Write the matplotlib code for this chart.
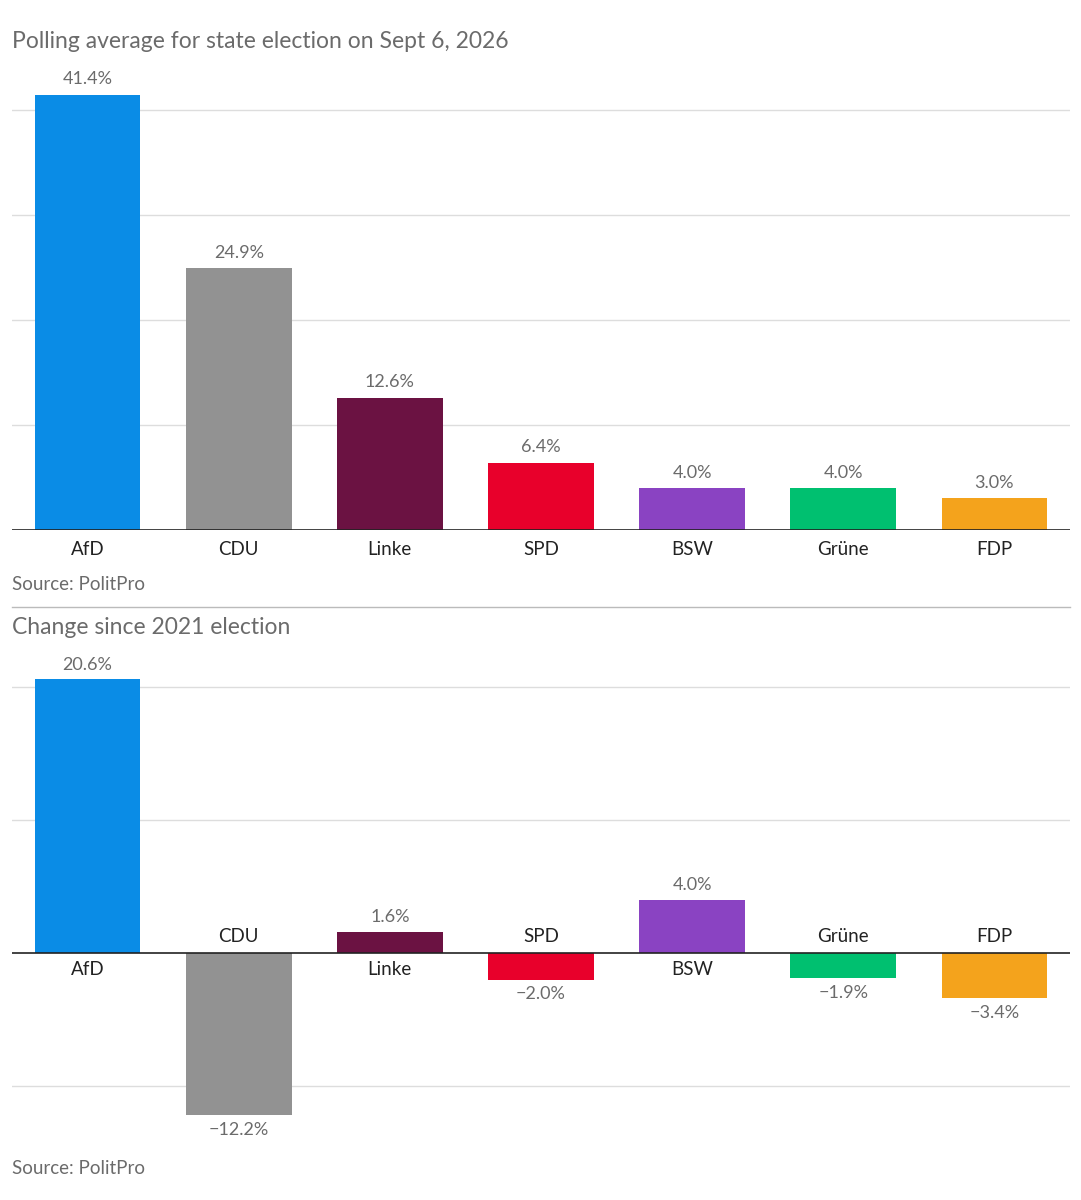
import matplotlib.pyplot as plt

parties = ["AfD", "CDU", "Linke", "SPD", "BSW", "Grüne", "FDP"]
polling = [41.4, 24.9, 12.6, 6.4, 4.0, 4.0, 3.0]
change = [20.6, -12.2, 1.6, -2.0, 4.0, -1.9, -3.4]
colors = ["#0a8ce6", "#929292", "#6b1242", "#e8002b", "#8a43c2", "#00c070", "#f4a31c"]

plt.rcParams["font.family"] = ["Lato", "DejaVu Sans"]
grey = "#6b6b6b"
W, H = 1081, 1200
fig = plt.figure(figsize=(W / 100, H / 100), dpi=100)

def px_axes(left, top, right, bottom):
    return fig.add_axes([left / W, 1 - bottom / H, (right - left) / W, (bottom - top) / H])

def style(ax, ticks):
    ax.set_xlim(-0.5, 6.5)
    ax.set_yticks(ticks)
    ax.grid(axis="y", color="#dddddd", lw=1)
    ax.set_axisbelow(True)
    ax.tick_params(left=False, labelleft=False, bottom=False, labelbottom=False)
    for s in ax.spines.values():
        s.set_visible(False)
    ax.axhline(0, color="#222222", lw=1.2, zorder=3)

# top panel
ax1 = px_axes(12, 78, 1070, 530)
ax1.set_ylim(0, 43)
style(ax1, [10, 20, 30, 40])
x = range(len(parties))
ax1.bar(x, polling, width=0.7, color=colors, zorder=2)
for i, v in enumerate(polling):
    ax1.text(i, v + 0.7, f"{v:.1f}%", ha="center", va="bottom", fontsize=13, color=grey)
    ax1.text(i, -1.0, parties[i], ha="center", va="top", fontsize=13.5, color="#222222")

# bottom panel
ax2 = px_axes(12, 674, 1070, 1126)
ax2.set_ylim(-13, 21)
style(ax2, [-10, 10, 20])
ax2.bar(x, change, width=0.7, color=colors, zorder=2)
for i, v in enumerate(change):
    if v >= 0:
        ax2.text(i, v + 0.5, f"{v:.1f}%", ha="center", va="bottom", fontsize=13, color=grey)
        ax2.text(i, -0.6, parties[i], ha="center", va="top", fontsize=13.5, color="#222222")
    else:
        ax2.text(i, v - 0.5, f"\u2212{abs(v):.1f}%", ha="center", va="top", fontsize=13, color=grey)
        ax2.text(i, 0.6, parties[i], ha="center", va="bottom", fontsize=13.5, color="#222222")

fig.text(12 / W, 1 - 42 / H, "Polling average for state election on Sept 6, 2026",
         fontsize=16.5, color=grey, va="center")
fig.text(12 / W, 1 - 585 / H, "Source: PolitPro", fontsize=13.5, color=grey, va="center")
fig.add_artist(plt.Line2D([12 / W, 1070 / W], [1 - 607 / H] * 2, color="#bbbbbb", lw=1))
fig.text(12 / W, 1 - 627 / H, "Change since 2021 election", fontsize=16.5, color=grey, va="center")
fig.text(12 / W, 1 - 1168 / H, "Source: PolitPro", fontsize=13.5, color=grey, va="center")

fig.savefig("out.png", dpi=100, facecolor="white")
